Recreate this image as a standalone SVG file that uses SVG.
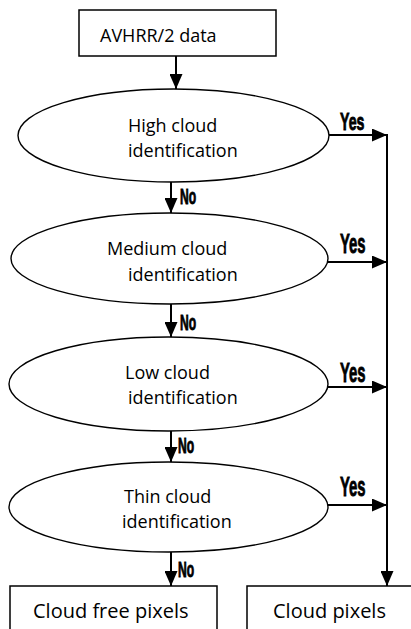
<svg xmlns="http://www.w3.org/2000/svg" width="411" height="629" viewBox="0 0 411 629">
<style>
.box{fill:#fff;stroke:#000;stroke-width:1.5}
.ell{fill:#fff;stroke:#000;stroke-width:1.4}
.t{font-family:"Open Sans","DejaVu Sans",sans-serif;font-size:18px;fill:#000}
.tb{font-family:"Open Sans","DejaVu Sans",sans-serif;font-size:20px;fill:#000}
.lab{font-family:"Liberation Sans",Arial,sans-serif;font-weight:bold;fill:#000;stroke:#000;stroke-width:0.9}
.c{stroke:#000;stroke-width:2;fill:none}
</style>
<defs>
<marker id="ah" viewBox="0 0 15 13" refX="15" refY="6.5" markerWidth="15" markerHeight="13" markerUnits="userSpaceOnUse" orient="auto">
<path d="M0,0 L15,6.5 L0,13 z" fill="#000"/>
</marker>
</defs>
<rect width="411" height="629" fill="#fff"/>
<g id="connectors">
<path class="c" d="M176,56 V89" marker-end="url(#ah)"/>
<path class="c" d="M171,182 V213" marker-end="url(#ah)"/>
<path class="c" d="M171,304 V337" marker-end="url(#ah)"/>
<path class="c" d="M171,431 V462" marker-end="url(#ah)"/>
<path class="c" d="M171,552 V586" marker-end="url(#ah)"/>
<path class="c" d="M329,135 H387" marker-end="url(#ah)"/>
<path class="c" d="M328,262 H387" marker-end="url(#ah)"/>
<path class="c" d="M328,387 H387" marker-end="url(#ah)"/>
<path class="c" d="M328,505 H387" marker-end="url(#ah)"/>
<path class="c" d="M387,134 V586" marker-end="url(#ah)"/>
<text class="lab" font-size="24" transform="translate(340,130) scale(0.59,1)">Yes</text>
<text class="lab" font-size="28" transform="translate(340,253) scale(0.53,1)">Yes</text>
<text class="lab" font-size="28" transform="translate(340,382) scale(0.53,1)">Yes</text>
<text class="lab" font-size="28" transform="translate(340,496) scale(0.53,1)">Yes</text>
<text class="lab" font-size="22" transform="translate(180,204) scale(0.55,1)">No</text>
<text class="lab" font-size="22" transform="translate(180,330) scale(0.55,1)">No</text>
<text class="lab" font-size="22" transform="translate(178,453) scale(0.55,1)">No</text>
<text class="lab" font-size="22" transform="translate(178,577) scale(0.55,1)">No</text>
</g>
<g id="input">
<rect class="box" x="79" y="10" width="197" height="46"/>
<text class="t" x="100" y="42">AVHRR/2 data</text>
</g>
<g id="high">
<ellipse class="ell" cx="173.5" cy="135.5" rx="155.5" ry="46.5"/>
<text class="t" x="128" y="132">High cloud</text>
<text class="t" x="128" y="157">identification</text>
</g>
<g id="medium">
<ellipse class="ell" cx="169.5" cy="258.5" rx="158.5" ry="45.5"/>
<text class="t" x="107" y="255">Medium cloud</text>
<text class="t" x="128" y="281">identification</text>
</g>
<g id="low">
<ellipse class="ell" cx="168.5" cy="384" rx="159.5" ry="47"/>
<text class="t" x="125" y="379">Low cloud</text>
<text class="t" x="128" y="404">identification</text>
</g>
<g id="thin">
<ellipse class="ell" cx="168.5" cy="507" rx="159.5" ry="45"/>
<text class="t" x="124" y="503">Thin cloud</text>
<text class="t" x="122" y="528">identification</text>
</g>
<g id="cloudfree">
<rect class="box" x="10" y="586" width="207" height="60"/>
<text class="tb" x="33" y="618">Cloud free pixels</text>
</g>
<g id="cloud">
<rect class="box" x="247" y="586" width="180" height="60"/>
<text class="tb" x="273" y="618">Cloud pixels</text>
</g>
</svg>
